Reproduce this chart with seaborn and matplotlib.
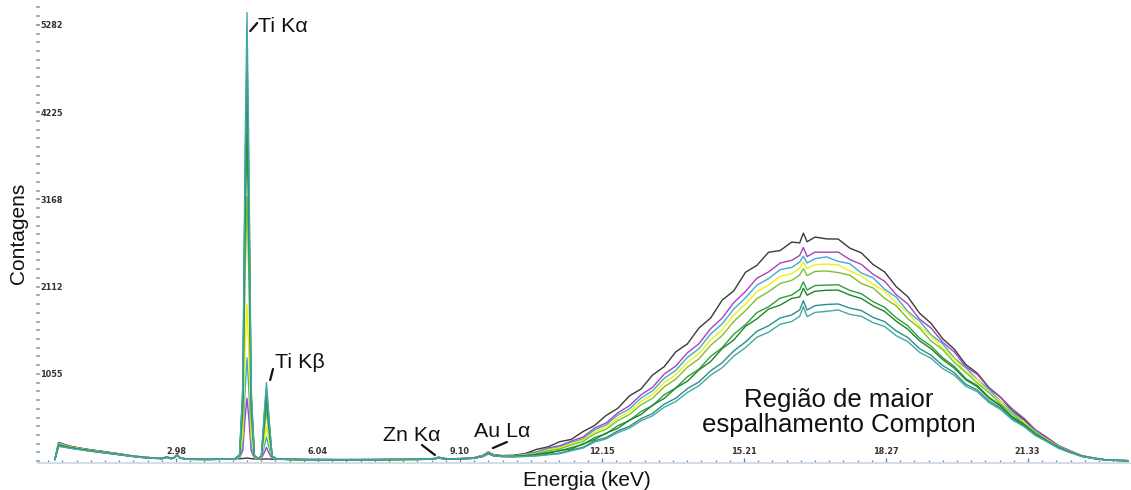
import matplotlib
matplotlib.use("Agg")
import matplotlib.pyplot as plt
from matplotlib.ticker import AutoMinorLocator
import pandas as pd
import seaborn as sns

# ---- energy channels (keV): low-energy region + Compton region ----
energia_baixa = [0.37, 0.45, 0.55, 0.7, 0.9, 1.1, 1.3, 1.5, 1.75, 2.0,
                 2.25, 2.5, 2.68, 2.78, 2.88, 2.94, 3.0, 3.07, 3.2, 3.4,
                 3.7, 4.0, 4.25, 4.35, 4.42, 4.47, 4.51, 4.55, 4.60, 4.67,
                 4.75, 4.82, 4.88, 4.93, 4.98, 5.05, 5.15, 5.4, 5.8, 6.2,
                 6.6, 7.0, 7.4, 7.8, 8.2, 8.45, 8.58, 8.64, 8.70, 8.85,
                 9.1, 9.4, 9.6, 9.71, 9.82, 10.0]
energia_compton = [10.25, 10.5, 10.75, 11.0, 11.25, 11.5, 11.75, 12.0, 12.25, 12.5,
                   12.75, 13.0, 13.25, 13.5, 13.75, 14.0, 14.25, 14.5, 14.75, 15.0,
                   15.25, 15.5, 15.75, 16.0, 16.25, 16.42, 16.5, 16.58,
                   16.75, 17.0, 17.25, 17.5, 17.75, 18.0, 18.25, 18.5, 18.75, 19.0,
                   19.25, 19.5, 19.75, 20.0, 20.25, 20.5, 20.75, 21.0, 21.25, 21.5,
                   21.75, 22.0, 22.25, 22.5, 22.75, 23.0, 23.25, 23.5]
energia = energia_baixa + energia_compton

# ---- counts per sample ----
amostra_1 = [18, 225, 205, 180, 158, 140, 124, 108, 88, 66, 50, 38, 33, 52, 32, 44, 80, 42, 26, 22,
             21, 24, 26, 28, 30, 34, 36, 33, 29, 26, 24, 23, 24, 26, 24, 22, 21, 20, 18, 19,
             17, 18, 19, 21, 23, 25, 34, 48, 36, 27, 30, 40, 70, 110, 78, 66,
             70, 90, 141, 172, 234, 262, 356, 430, 552, 638, 788, 872, 1041, 1142, 1322, 1418,
             1611, 1731, 1948, 2061, 2284, 2371, 2528, 2549, 2652, 2641, 2760, 2655,
             2712, 2690, 2688, 2578, 2521, 2381, 2290, 2112, 1990, 1792, 1668, 1482, 1356, 1168,
             1062, 889, 772, 611, 502, 368, 276, 180, 118, 62, 37, 15, 9, 4]
amostra_2 = [20, 222, 200, 178, 155, 138, 122, 106, 86, 64, 49, 37, 32, 50, 31, 42, 78, 40, 25, 22,
             21, 23, 26, 40, 130, 530, 760, 520, 125, 35, 26, 32, 100, 165, 98, 30, 22, 20, 18, 18,
             17, 18, 19, 20, 22, 24, 33, 46, 35, 26, 29, 38, 66, 104, 74, 62,
             64, 86, 110, 158, 186, 241, 290, 398, 461, 583, 670, 801, 893, 1052, 1150, 1311,
             1420, 1602, 1731, 1918, 2052, 2214, 2290, 2398, 2430, 2490, 2585, 2476,
             2530, 2528, 2531, 2440, 2381, 2262, 2178, 2015, 1902, 1720, 1611, 1440, 1322, 1141,
             1048, 880, 770, 632, 520, 380, 286, 188, 124, 66, 38, 16, 9, 4]
amostra_3 = [19, 212, 196, 174, 152, 134, 119, 103, 84, 63, 47, 36, 31, 49, 30, 41, 76, 39, 24, 21,
             20, 23, 27, 45, 215, 870, 1250, 860, 205, 40, 27, 36, 175, 290, 172, 38, 22, 19, 18, 17,
             17, 18, 18, 20, 21, 24, 32, 45, 34, 26, 28, 37, 64, 100, 72, 60,
             62, 79, 101, 146, 171, 224, 270, 378, 437, 556, 631, 762, 851, 1001, 1098, 1255,
             1360, 1538, 1660, 1841, 1975, 2131, 2208, 2318, 2345, 2410, 2480, 2398,
             2450, 2472, 2418, 2390, 2276, 2220, 2080, 1985, 1812, 1698, 1530, 1420, 1250, 1128,
             986, 866, 720, 602, 470, 366, 256, 182, 108, 64, 33, 17, 8, 4]
amostra_4 = [18, 205, 192, 170, 150, 132, 117, 101, 82, 62, 46, 35, 31, 48, 30, 40, 74, 38, 24, 21,
             20, 22, 27, 50, 320, 1330, 1900, 1310, 310, 45, 28, 40, 250, 420, 248, 45, 23, 19, 17, 17,
             16, 17, 18, 19, 21, 23, 31, 44, 33, 25, 27, 36, 62, 96, 70, 58,
             60, 74, 94, 136, 160, 210, 254, 352, 410, 520, 598, 720, 806, 948, 1046, 1192,
             1300, 1466, 1590, 1768, 1900, 2052, 2130, 2236, 2270, 2335, 2412, 2330,
             2380, 2384, 2376, 2302, 2240, 2140, 2055, 1912, 1796, 1636, 1515, 1368, 1240, 1084,
             982, 832, 716, 576, 472, 350, 262, 172, 112, 60, 35, 15, 8, 4]
amostra_5 = [17, 198, 188, 166, 147, 130, 115, 99, 80, 61, 45, 34, 30, 47, 29, 40, 72, 37, 23, 20,
             19, 22, 28, 60, 540, 2240, 3200, 2200, 520, 55, 30, 48, 360, 600, 355, 52, 23, 19, 17, 16,
             16, 17, 17, 19, 20, 23, 30, 43, 32, 25, 27, 35, 60, 94, 68, 57,
             58, 70, 88, 124, 146, 195, 236, 330, 384, 489, 562, 680, 760, 898, 992, 1136,
             1238, 1400, 1520, 1690, 1820, 1968, 2050, 2150, 2188, 2252, 2330, 2246,
             2296, 2302, 2282, 2250, 2150, 2096, 1970, 1880, 1724, 1612, 1455, 1350, 1196, 1072,
             944, 828, 690, 575, 452, 352, 248, 176, 106, 63, 32, 15, 8, 4]
amostra_6 = [16, 190, 182, 162, 144, 127, 112, 97, 79, 60, 44, 34, 30, 46, 29, 39, 70, 36, 23, 20,
             19, 22, 28, 65, 670, 2770, 3950, 2720, 650, 60, 32, 52, 430, 720, 425, 58, 24, 19, 17, 16,
             16, 16, 17, 18, 20, 22, 30, 42, 31, 24, 26, 34, 58, 92, 66, 56,
             56, 65, 80, 106, 122, 164, 200, 284, 332, 428, 490, 598, 672, 802, 884, 1020,
             1112, 1266, 1372, 1536, 1650, 1798, 1868, 1972, 2010, 2075, 2170, 2070,
             2125, 2130, 2135, 2066, 2026, 1930, 1862, 1735, 1638, 1490, 1392, 1252, 1148, 998,
             914, 772, 672, 540, 446, 330, 248, 164, 108, 58, 33, 14, 7, 4]
amostra_7 = [16, 186, 178, 160, 142, 125, 110, 96, 78, 59, 44, 33, 29, 45, 28, 38, 68, 36, 22, 20,
             19, 22, 29, 70, 800, 3300, 4700, 3240, 770, 62, 33, 55, 500, 840, 495, 60, 24, 19, 17, 16,
             15, 16, 17, 18, 19, 22, 29, 41, 31, 24, 26, 33, 57, 90, 65, 55,
             55, 62, 78, 94, 128, 146, 208, 260, 338, 396, 494, 562, 676, 758, 884, 966,
             1104, 1204, 1362, 1466, 1630, 1722, 1840, 1888, 1970, 1986, 2092, 2008,
             2056, 2068, 2070, 2010, 1968, 1880, 1812, 1694, 1596, 1458, 1360, 1230, 1126, 984,
             898, 762, 664, 532, 440, 326, 244, 162, 106, 58, 31, 15, 7, 4]
amostra_8 = [15, 180, 174, 157, 140, 123, 109, 95, 77, 58, 43, 33, 29, 44, 28, 38, 66, 35, 22, 19,
             18, 21, 29, 72, 850, 3500, 5000, 3450, 820, 64, 34, 56, 525, 880, 520, 62, 24, 19, 17, 16,
             15, 16, 16, 18, 19, 21, 28, 40, 30, 24, 25, 33, 56, 88, 64, 54,
             52, 58, 66, 82, 96, 134, 166, 244, 284, 364, 420, 512, 576, 688, 760, 876,
             958, 1092, 1190, 1334, 1440, 1572, 1638, 1732, 1770, 1830, 1940, 1828,
             1882, 1896, 1902, 1852, 1822, 1740, 1688, 1576, 1496, 1362, 1282, 1158, 1070, 930,
             860, 728, 640, 514, 428, 318, 240, 158, 104, 56, 32, 14, 7, 4]
amostra_9 = [15, 176, 170, 154, 138, 121, 107, 94, 76, 57, 42, 33, 28, 44, 27, 37, 65, 35, 22, 19,
             18, 21, 29, 75, 920, 3800, 5430, 3750, 890, 66, 35, 58, 570, 950, 565, 64, 24, 19, 17, 16,
             15, 15, 16, 17, 19, 21, 28, 40, 30, 23, 25, 32, 55, 86, 63, 53,
             50, 55, 62, 75, 88, 124, 156, 230, 268, 344, 398, 486, 548, 652, 720, 830,
             912, 1040, 1130, 1270, 1372, 1500, 1560, 1656, 1690, 1752, 1870, 1748,
             1800, 1812, 1830, 1776, 1752, 1676, 1630, 1518, 1446, 1318, 1244, 1120, 1040, 906,
             838, 708, 624, 500, 418, 308, 234, 154, 102, 55, 31, 14, 7, 4]

amostras = ["Amostra 1", "Amostra 2", "Amostra 3", "Amostra 4", "Amostra 5",
            "Amostra 6", "Amostra 7", "Amostra 8", "Amostra 9"]
contagens = [amostra_1, amostra_2, amostra_3, amostra_4, amostra_5,
             amostra_6, amostra_7, amostra_8, amostra_9]
cores = ["#3a3a3a", "#a844b8", "#3fa9dc", "#f0f00a", "#7cbf3c",
         "#2e9e3a", "#1c862a", "#2a8f8a", "#45a8a4"]

x_ticks = [2.98, 6.04, 9.10, 12.15, 15.21, 18.27, 21.33]
x_labels = ["2.98", "6.04", "9.10", "12.15", "15.21", "18.27", "21.33"]
y_ticks = [1055, 2112, 3168, 4225, 5282]
y_labels = ["1055", "2112", "3168", "4225", "5282"]

df = pd.DataFrame({
    "Energia": [e for _ in amostras for e in energia],
    "Contagens": [c for serie in contagens for c in serie],
    "Amostra": [a for a in amostras for _ in energia],
})

sns.set_theme(style="white")
plt.rcParams["font.family"] = ["Liberation Sans", "DejaVu Sans"]

fig = plt.figure(figsize=(11.31, 4.90), dpi=100)
ax = fig.add_axes([37.7 / 1131, 27 / 490, (1131 - 37.7) / 1131, 463 / 490])

sns.lineplot(data=df, x="Energia", y="Contagens", hue="Amostra",
             hue_order=amostras, palette=cores, estimator=None, sort=False,
             linewidth=1.0, legend=False, ax=ax)

ax.set_xlim(0, 23.56)
ax.set_ylim(-24, 5583)

for s in ("top", "right", "left"):
    ax.spines[s].set_visible(False)
ax.spines["bottom"].set_color("#d3dce8")
ax.spines["bottom"].set_linewidth(1.4)

# x axis: ticks pointing up, labels sitting just above the axis line
ax.set_xticks(x_ticks, x_labels, va="bottom", fontsize=5.9,
              fontweight="bold", family="DejaVu Sans", color="#333333")
ax.xaxis.set_minor_locator(AutoMinorLocator(10))
ax.tick_params(axis="x", which="major", direction="in", length=3.4, width=0.9,
               color="#5d80aa", pad=-5.0, bottom=True)
ax.tick_params(axis="x", which="minor", direction="in", length=2.0, width=0.9,
               color="#5d80aa", bottom=True)

# y axis: short dashes, labels inside the plot
ax.set_yticks(y_ticks, y_labels, ha="left", fontsize=5.9,
              fontweight="bold", family="DejaVu Sans", color="#333333")
ax.yaxis.set_minor_locator(AutoMinorLocator(10))
ax.tick_params(axis="y", which="both", direction="inout", length=3.0, width=1.2,
               color="#8aa2c0", pad=-3.4, left=True)

ax.set_xlabel("Energia (keV)", fontsize=15, color="#111111")
ax.xaxis.set_label_coords((587 - 37.7) / 1093.3, (463 - 480) / 463)
ax.xaxis.label.set_verticalalignment("center")
ax.set_ylabel("Contagens", fontsize=15, color="#111111")
ax.yaxis.set_label_coords((19 - 37.7) / 1093.3, (463 - 233) / 463)
ax.yaxis.label.set_verticalalignment("center")

# peak labels with short leader lines
lider = dict(arrowstyle="-", color="#111111", lw=1.6, shrinkA=0, shrinkB=0)
ax.annotate("", xy=(4.58, 5207), xytext=(4.73, 5304), arrowprops=lider)
ax.text(4.75, 5268, "Ti Kα", fontsize=15.4, ha="left", va="center", color="#111111")
ax.annotate("", xy=(5.01, 981), xytext=(5.07, 1114), arrowprops=lider)
ax.text(5.11, 1199, "Ti Kβ", fontsize=15.4, ha="left", va="center", color="#111111")
ax.annotate("", xy=(8.56, 73), xytext=(8.28, 194), arrowprops=lider)
ax.text(8.05, 315, "Zn Kα", fontsize=15.4, ha="center", va="center", color="#111111")
ax.annotate("", xy=(9.81, 157), xytext=(10.11, 230), arrowprops=lider)
ax.text(10.02, 363, "Au Lα", fontsize=15.4, ha="center", va="center", color="#111111")
ax.text(17.27, 587, "Região de maior\nespalhamento Compton", fontsize=18.5,
        ha="center", va="center", linespacing=1.05, color="#111111")

fig.savefig("out.png", dpi=100, facecolor="white")
